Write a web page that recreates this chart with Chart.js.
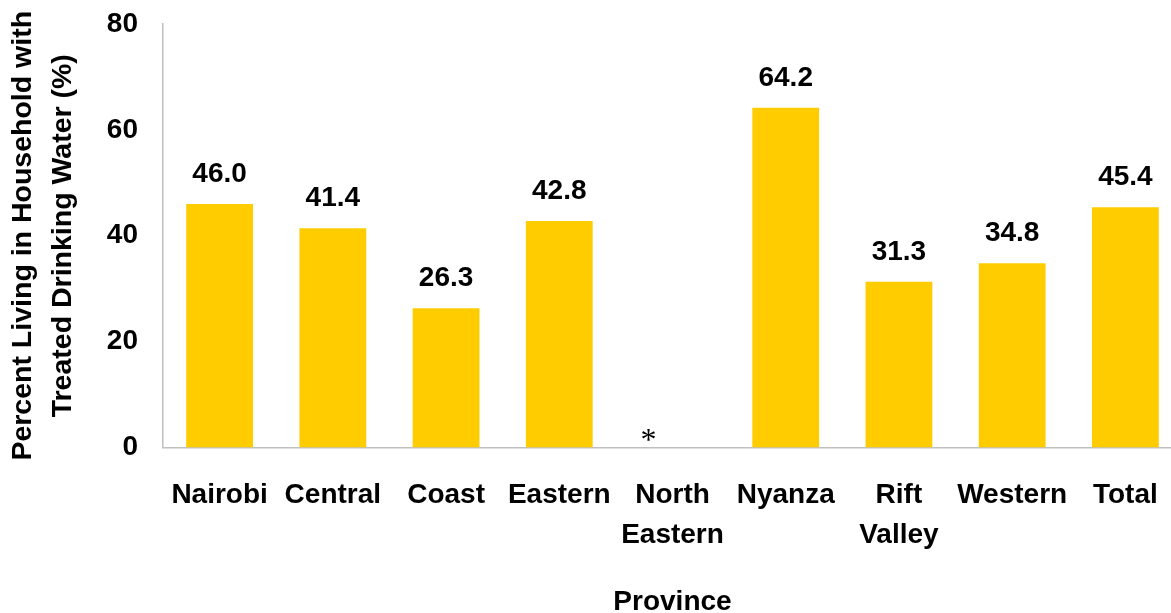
<!DOCTYPE html>
<html>
<head>
<meta charset="utf-8">
<script src="https://cdn.jsdelivr.net/npm/chart.js@4"></script>
<style>
  html, body { margin: 0; padding: 0; background: #fff; overflow: hidden; }
  #wrap { width: 1200px; height: 613px; position: relative; }
</style>
</head>
<body>
<div id="wrap"><canvas id="myChart"></canvas></div>
<script>
const provinces = ['Nairobi', 'Central', 'Coast', 'Eastern', ['North', 'Eastern'], 'Nyanza', ['Rift', 'Valley'], 'Western', 'Total'];
const treatedPct = [46.0, 41.4, 26.3, 42.8, null, 64.2, 31.3, 34.8, 45.4];
const valueLabels = ['46.0', '41.4', '26.3', '42.8', '*', '64.2', '31.3', '34.8', '45.4'];
const yTicks = [0, 20, 40, 60, 80];

const FONT = '"Liberation Sans", Arial, sans-serif';

// numbers over the bars, and the asterisk where there is no value
const barLabels = {
  id: 'barLabels',
  afterDatasetsDraw(chart) {
    const ctx = chart.ctx;
    const meta = chart.getDatasetMeta(0);
    const x = chart.scales.x, y = chart.scales.y;
    ctx.save();
    ctx.fillStyle = '#000';
    ctx.textAlign = 'center';
    ctx.textBaseline = 'alphabetic';
    valueLabels.forEach((txt, i) => {
      const v = treatedPct[i];
      if (v === null) {
        ctx.font = '32px "Liberation Serif", serif';
        const m = ctx.measureText(txt);
        const cy = y.getPixelForValue(0) - 13;
        ctx.fillText(txt, x.getPixelForValue(i) - 24, cy + (m.actualBoundingBoxAscent - m.actualBoundingBoxDescent) / 2);
        return;
      }
      ctx.font = 'bold 28px ' + FONT;
      ctx.fillText(txt, meta.data[i].x, meta.data[i].y - 22);
    });
    ctx.restore();
  }
};

const ctx = document.getElementById('myChart').getContext('2d');

const config = {
  type: 'bar',
  data: {
    labels: provinces,
    datasets: [{
      data: treatedPct,
      backgroundColor: '#FFCC00',
      borderWidth: 0,
      categoryPercentage: 1,
      barPercentage: 0.59,
    }]
  },
  options: {
    responsive: true,
    maintainAspectRatio: false,
    animation: false,
    layout: { padding: { top: 24, right: 18, bottom: 0, left: 0 } },
    plugins: { legend: { display: false }, tooltip: { enabled: false } },
    scales: {
      x: {
        grid: { display: false, drawTicks: false },
        border: { display: true, color: '#bfbfbf', width: 1.5 },
        ticks: {
          color: '#000', padding: 28, autoSkip: false, maxRotation: 0,
          font: { family: FONT, size: 28, weight: 'bold', lineHeight: 40 / 28 }
        },
        title: {
          display: true, text: 'Province', color: '#000', padding: 0,
          font: { family: FONT, size: 28, weight: 'bold', lineHeight: 0.8 }
        },
        afterFit: s => { s.height = 165.5; }
      },
      y: {
        min: 0, max: 80,
        afterBuildTicks: s => { s.ticks = yTicks.map(v => ({ value: v })); },
        grid: { display: false, drawTicks: false },
        border: { display: true, color: '#bfbfbf', width: 1.5 },
        ticks: {
          color: '#000', padding: 25,
          font: { family: FONT, size: 28, weight: 'bold' }
        },
        title: {
          display: true,
          text: ['Percent Living in Household with', 'Treated Drinking Water (%)'],
          color: '#000', padding: { top: 3, bottom: 0 },
          font: { family: FONT, size: 28.5, weight: 'bold', lineHeight: 40 / 28.5 }
        },
        afterFit: s => { s.width = 163; s.paddingTop = 0; s.paddingBottom = 0; }
      }
    }
  },
  plugins: [barLabels]
};

const myChart = new Chart(ctx, config);
</script>
</body>
</html>
